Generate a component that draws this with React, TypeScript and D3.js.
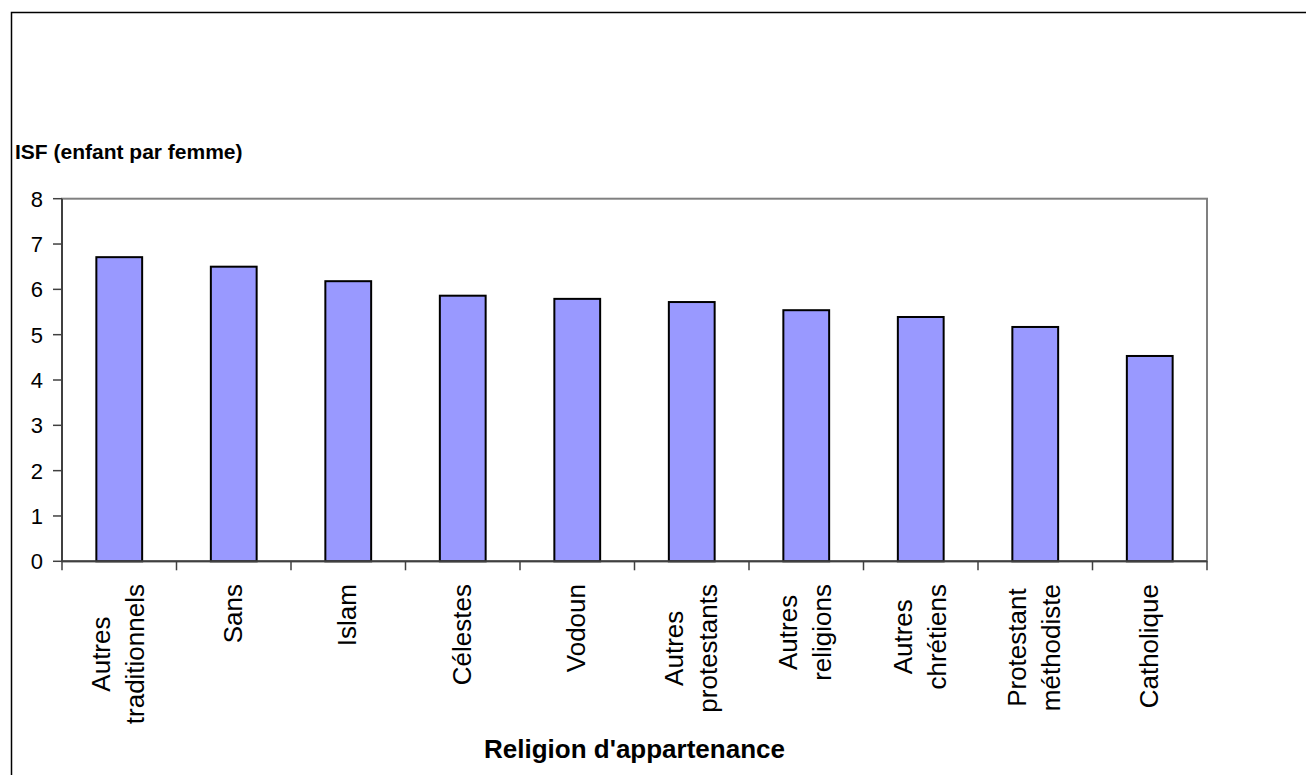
import React, { useEffect, useRef } from "react";
import * as d3 from "d3";

const categories: string[] = [
  "Autres traditionnels",
  "Sans",
  "Islam",
  "Célestes",
  "Vodoun",
  "Autres protestants",
  "Autres religions",
  "Autres chrétiens",
  "Protestant méthodiste",
  "Catholique",
];
const isfValues: number[] = [6.71, 6.5, 6.18, 5.86, 5.79, 5.72, 5.54, 5.39, 5.17, 4.53];
const yTicks: number[] = [0, 1, 2, 3, 4, 5, 6, 7, 8];
const yTitle = "ISF (enfant par femme)";
const xTitle = "Religion d'appartenance";

const W = 1306;
const H = 775;
const PL = 62, PR = 1207, PT = 198.7, PB = 561.3;
const FONT = "'Liberation Sans', Arial, sans-serif";

export default function App() {
  const ref = useRef<SVGSVGElement | null>(null);
  useEffect(() => {
    const svg = d3.select(ref.current);
    svg.selectAll("*").remove();

    const x = d3.scaleBand<string>().domain(categories).range([PL, PR]).paddingInner(0.6).paddingOuter(0.3);
    const y = d3.scaleLinear().domain([0, 8]).range([PB, PT]);
    const step = x.step();

    // outer chart border (left & top visible)
    svg.append("rect").attr("x", 11.5).attr("y", 12.5).attr("width", W + 20).attr("height", H + 20)
      .attr("fill", "white").attr("stroke", "#000").attr("stroke-width", 1.5);

    // plot area border
    svg.append("rect").attr("x", PL).attr("y", PT).attr("width", PR - PL).attr("height", PB - PT)
      .attr("fill", "white").attr("stroke", "#808080").attr("stroke-width", 2);

    // bars
    svg.selectAll("rect.bar").data(categories).enter().append("rect")
      .attr("class", "bar")
      .attr("x", (d) => x(d) as number)
      .attr("y", (d, i) => y(isfValues[i]))
      .attr("width", x.bandwidth())
      .attr("height", (d, i) => y(0) - y(isfValues[i]))
      .attr("fill", "#9999FF").attr("stroke", "#000").attr("stroke-width", 2);

    // y axis
    svg.append("line").attr("x1", PL).attr("x2", PL).attr("y1", PT).attr("y2", PB)
      .attr("stroke", "#404040").attr("stroke-width", 2);
    yTicks.forEach((t) => {
      svg.append("line").attr("x1", PL - 9).attr("x2", PL).attr("y1", y(t)).attr("y2", y(t))
        .attr("stroke", "#404040").attr("stroke-width", 1.5);
      svg.append("text").attr("x", 43).attr("y", y(t)).attr("dy", "0.36em")
        .attr("text-anchor", "end").attr("font-family", FONT).attr("font-size", 22)
        .attr("fill", "#000").text(String(t));
    });

    // x axis
    svg.append("line").attr("x1", PL).attr("x2", PR).attr("y1", PB).attr("y2", PB)
      .attr("stroke", "#404040").attr("stroke-width", 2);
    for (let i = 0; i <= categories.length; i++) {
      const xx = PL + i * step;
      svg.append("line").attr("x1", xx).attr("x2", xx).attr("y1", PB).attr("y2", PB + 9)
        .attr("stroke", "#404040").attr("stroke-width", 1.5);
    }

    // category labels (rotated, multiline centered, top-aligned)
    categories.forEach((c) => {
      const lines = c.split(" ");
      const cx = (x(c) as number) + x.bandwidth() / 2;
      const g = svg.append("g").attr("transform", `translate(0,584) rotate(-90)`);
      const texts = lines.map((ln, j) =>
        g.append("text").attr("font-family", FONT).attr("font-size", 26).attr("fill", "#000")
          .attr("text-anchor", "middle")
          .attr("y", cx + 8 + (j - (lines.length - 1) / 2) * 34)
          .text(ln)
      );
      const maxLen = d3.max(texts, (t) => (t.node() as SVGTextElement).getComputedTextLength()) || 0;
      texts.forEach((t) => t.attr("x", -maxLen / 2));
    });

    // titles
    svg.append("text").attr("x", 15).attr("y", 159).attr("font-family", FONT)
      .attr("font-size", 21).attr("font-weight", "bold").attr("fill", "#000").text(yTitle);
    svg.append("text").attr("x", (PL + PR) / 2).attr("y", 758).attr("text-anchor", "middle")
      .attr("font-family", FONT).attr("font-size", 26).attr("font-weight", "bold").attr("fill", "#000")
      .text(xTitle);
  }, []);

  return (
    <svg ref={ref} width={W} height={H}
      style={{ position: "absolute", left: 0, top: 0, display: "block", background: "white" }} />
  );
}
